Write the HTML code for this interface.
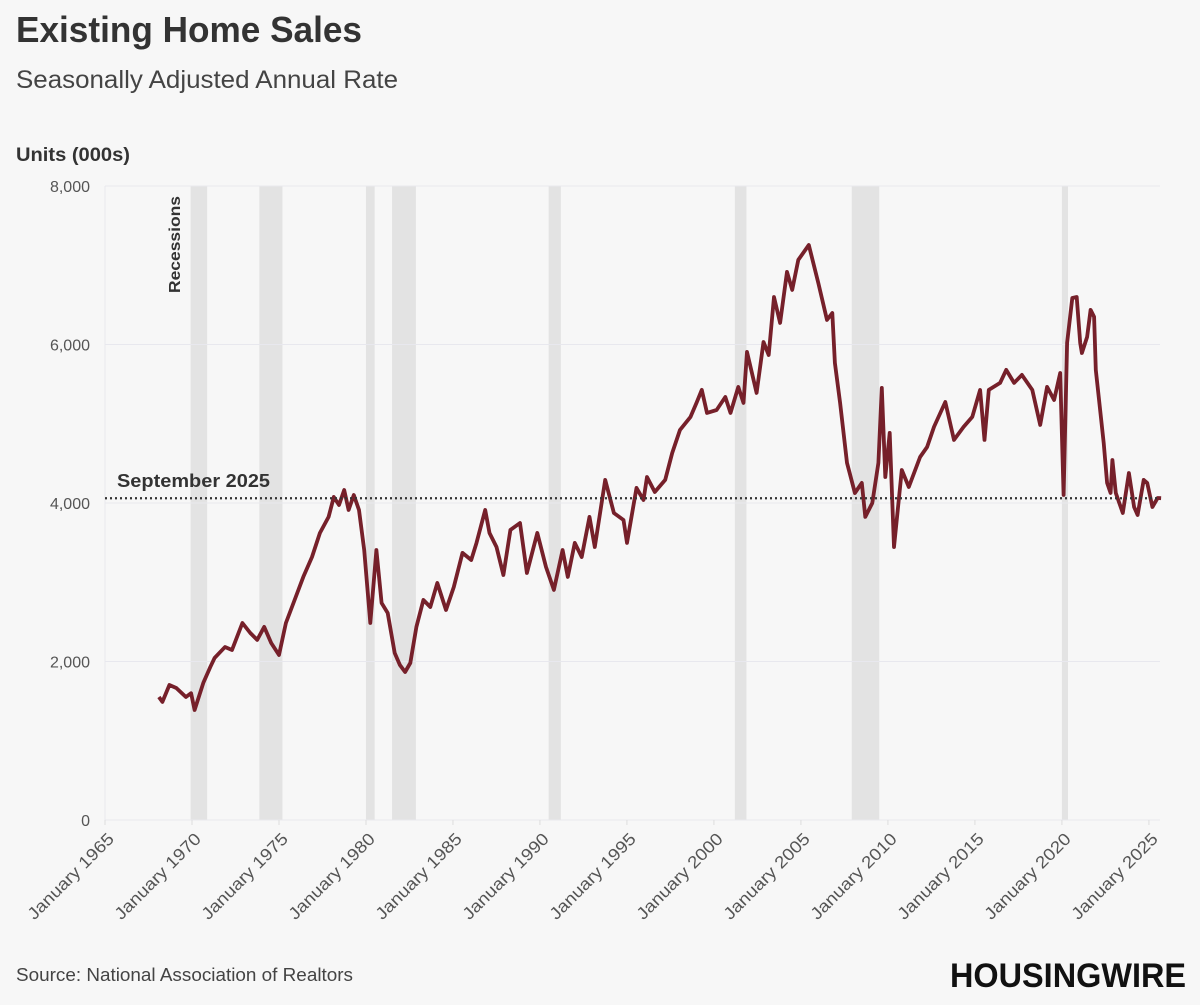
<!DOCTYPE html>
<html><head><meta charset="utf-8">
<style>
html,body{margin:0;padding:0;background:#f7f7f7;}
svg{display:block;font-family:"Liberation Sans",sans-serif;}
</style></head>
<body>
<svg id="chart" width="1200" height="1005" viewBox="0 0 1200 1005">
<rect x="0" y="0" width="1200" height="1005" fill="#f7f7f7"/>
<text x="16" y="42" font-size="36" font-weight="bold" fill="#333" textLength="346" lengthAdjust="spacingAndGlyphs">Existing Home Sales</text>
<text x="16" y="88" font-size="25" fill="#444" textLength="382" lengthAdjust="spacingAndGlyphs">Seasonally Adjusted Annual Rate</text>
<text x="16" y="161" font-size="19" font-weight="bold" fill="#333" textLength="114" lengthAdjust="spacingAndGlyphs">Units (000s)</text>
<g id="recessions"></g>
<g id="grid"></g>
<g id="yticks"></g>
<g id="xticks"></g>
<text transform="translate(180,293) rotate(-90)" font-size="16" font-weight="bold" fill="#333" textLength="97" lengthAdjust="spacingAndGlyphs">Recessions</text>
<g id="series"></g>
<g id="refline"></g>
<text x="16" y="981" font-size="18" fill="#444" textLength="337" lengthAdjust="spacingAndGlyphs">Source: National Association of Realtors</text>
<text x="950" y="987" font-size="34" font-weight="bold" fill="#111" textLength="236" lengthAdjust="spacingAndGlyphs">HOUSINGWIRE</text>
</svg>
<script>
const years = [1968.1,1968.3,1968.7,1969.1,1969.65,1969.95,1970.15,1970.65,1971.05,1971.3,1971.9,1972.3,1972.9,1973.35,1973.75,1974.15,1974.55,1975.0,1975.4,1975.9,1976.4,1976.9,1977.35,1977.85,1978.15,1978.45,1978.75,1979.0,1979.3,1979.6,1979.9,1980.25,1980.6,1980.9,1981.25,1981.65,1981.95,1982.25,1982.55,1982.9,1983.3,1983.7,1984.1,1984.6,1985.05,1985.55,1986.05,1986.35,1986.85,1987.1,1987.5,1987.9,1988.3,1988.85,1989.25,1989.85,1990.35,1990.8,1991.3,1991.6,1992.0,1992.4,1992.85,1993.15,1993.75,1994.25,1994.8,1995.0,1995.55,1995.95,1996.15,1996.6,1997.2,1997.6,1998.05,1998.65,1999.0,1999.3,1999.6,2000.15,2000.65,2000.95,2001.4,2001.7,2001.9,2002.45,2002.85,2003.15,2003.45,2003.8,2004.2,2004.5,2004.85,2005.45,2006.0,2006.5,2006.8,2006.95,2007.25,2007.65,2008.1,2008.5,2008.7,2009.1,2009.45,2009.65,2009.85,2010.1,2010.35,2010.8,2011.2,2011.85,2012.25,2012.65,2013.3,2013.8,2014.35,2014.85,2015.3,2015.55,2015.8,2016.45,2016.8,2017.25,2017.7,2018.3,2018.75,2019.15,2019.55,2019.9,2020.1,2020.3,2020.6,2020.85,2021.05,2021.15,2021.45,2021.65,2021.85,2021.95,2022.4,2022.6,2022.8,2022.9,2023.1,2023.5,2023.85,2024.15,2024.35,2024.7,2024.9,2025.2,2025.5,2025.7];
const sales = [1552,1490,1704,1666,1552,1600,1388,1730,1931,2045,2183,2145,2486,2360,2272,2436,2234,2082,2486,2776,3067,3319,3622,3824,4076,3975,4164,3912,4101,3912,3407,2486,3407,2738,2612,2107,1956,1867,1981,2436,2776,2688,2991,2650,2940,3370,3281,3496,3912,3622,3445,3092,3660,3748,3117,3622,3193,2903,3407,3067,3496,3319,3824,3445,4291,3874,3786,3496,4190,4038,4328,4139,4291,4631,4922,5086,5263,5427,5137,5174,5338,5137,5465,5263,5906,5389,6032,5868,6600,6272,6916,6689,7067,7256,6777,6310,6398,5767,5263,4506,4126,4253,3824,4000,4506,5452,4328,4884,3445,4417,4202,4581,4707,4960,5275,4796,4960,5086,5427,4796,5427,5515,5679,5515,5616,5427,4985,5465,5300,5641,4101,6020,6587,6600,6020,5893,6095,6436,6348,5679,4758,4253,4126,4543,4126,3874,4379,3950,3849,4291,4253,3950,4063,4060];
const recessionStarts = [1969.92,1973.87,1980.0,1981.5,1990.5,2001.2,2007.92,2020.0];
const recessionEnds = [1970.87,1975.2,1980.5,1982.87,1991.2,2001.87,2009.5,2020.35];
const yTicks = [0,2000,4000,6000,8000];
const yTickLabels = ["0","2,000","4,000","6,000","8,000"];
const xTicks = [1965,1970,1975,1980,1985,1990,1995,2000,2005,2010,2015,2020,2025];
const xTickLabels = ["January 1965","January 1970","January 1975","January 1980","January 1985","January 1990","January 1995","January 2000","January 2005","January 2010","January 2015","January 2020","January 2025"];
const latestValue = [4060];

const NS = "http://www.w3.org/2000/svg";
const X0 = 105, X1 = 1160, Y0 = 820, Y1 = 186;
function xs(yr){ return X0 + (yr - 1965) * (1043.9 / 60); }
function ys(v){ return Y0 - (v / 8000) * (Y0 - Y1); }
function mk(tag, attrs, parent){ const e = document.createElementNS(NS, tag); for (const k in attrs) e.setAttribute(k, attrs[k]); parent.appendChild(e); return e; }

const rec = document.getElementById('recessions');
recessionStarts.forEach((s, i) => {
  const r = mk('rect', {x: xs(s), y: Y1, width: xs(recessionEnds[i]) - xs(s), height: Y0 - Y1, fill: '#e3e3e3'}, rec);
  
  
});

const grid = document.getElementById('grid');
const yt = document.getElementById('yticks');
yTicks.forEach((v, i) => {
  const l = mk('line', {x1: X0, x2: X1, y1: ys(v), y2: ys(v), stroke: '#e8e8ee', 'stroke-width': 1}, grid);
  
  
  const t = mk('text', {x: 90, y: ys(v) + 6, 'text-anchor': 'end', 'font-size': 16, fill: '#555'}, yt);
  t.textContent = yTickLabels[i];
  
  
});
const ax = mk('line', {x1: X0, x2: X0, y1: Y1, y2: Y0, stroke: '#e8e8ee', 'stroke-width': 1}, grid);



const xt = document.getElementById('xticks');
xTicks.forEach((yr, i) => {
  const x = xs(yr);
  const tk = mk('line', {x1: x, x2: x, y1: Y0, y2: Y0 + 5, stroke: '#ddd'}, xt);
  
  
  const t = mk('text', {transform: `translate(${x + 10},${Y0 + 20}) rotate(-45)`, 'text-anchor': 'end', 'font-size': 17, fill: '#555', textLength: 114, lengthAdjust: 'spacingAndGlyphs'}, xt);
  t.textContent = xTickLabels[i];
  
  
});

const ser = document.getElementById('series');
const d = years.map((yr, i) => (i ? 'L' : 'M') + xs(yr).toFixed(1) + ',' + ys(sales[i]).toFixed(1)).join(' ');
const path = mk('path', {d: d, fill: 'none', stroke: '#76202a', 'stroke-width': 3.8, 'stroke-linejoin': 'round'}, ser);



const rl = document.getElementById('refline');
const ry = ys(latestValue[0]);
const line = mk('line', {x1: X0, x2: X1, y1: ry, y2: ry, stroke: '#333', 'stroke-width': 2.2, 'stroke-dasharray': '2 3'}, rl);


const lt = mk('text', {x: 117, y: ry - 11, 'font-size': 18, 'font-weight': 'bold', fill: '#333', textLength: 153, lengthAdjust: 'spacingAndGlyphs'}, rl);
lt.textContent = 'September 2025';


</script>
</body></html>
